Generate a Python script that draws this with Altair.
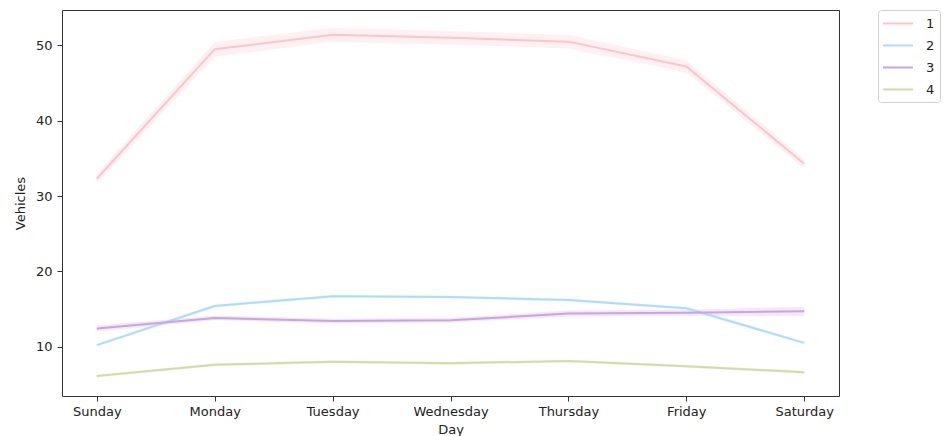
import altair as alt
import pandas as pd

# Average vehicle counts per weekday for four groups, with confidence bands
days = ["Sunday", "Monday", "Tuesday", "Wednesday", "Thursday", "Friday", "Saturday"]
groups = ["1", "2", "3", "4"]

mean_1 = [32.3, 49.5, 51.4, 51.0, 50.5, 47.2, 34.3]
mean_2 = [10.2, 15.4, 16.7, 16.6, 16.2, 15.1, 10.5]
mean_3 = [12.4, 13.8, 13.4, 13.5, 14.4, 14.5, 14.7]
mean_4 = [6.1, 7.6, 8.0, 7.8, 8.1, 7.4, 6.6]

ci_1 = [0.6, 1.0, 0.9, 0.9, 0.9, 0.8, 0.6]
ci_2 = [0.2, 0.2, 0.2, 0.2, 0.2, 0.2, 0.2]
ci_3 = [0.4, 0.3, 0.3, 0.3, 0.4, 0.4, 0.6]
ci_4 = [0.2, 0.2, 0.2, 0.2, 0.2, 0.2, 0.2]

colors = ["#ffc3cc", "#acddfa", "#cda2e2", "#d6dba6"]

rows = []
for g, means, cis in zip(groups, [mean_1, mean_2, mean_3, mean_4], [ci_1, ci_2, ci_3, ci_4]):
    for d, m, c in zip(days, means, cis):
        rows.append({"Day": d, "Group": g, "Vehicles": m, "lo": m - c, "hi": m + c})
df = pd.DataFrame(rows)

font = "DejaVu Sans"

legend = alt.Legend(
    title=None,
    orient="none",
    legendX=816,
    legendY=0,
    padding=5,
    strokeColor="#d0d0d0",
    fillColor="white",
    cornerRadius=3,
    symbolType="M-1.13,0L2.87,0",
    symbolSize=225,
    symbolStrokeWidth=2,
    symbolOpacity=1,
    symbolFillColor="transparent",
    labelOffset=26,
    rowPadding=6,
    labelFontSize=13,
    labelFont=font,
    labelColor="#222",
)
color_scale = alt.Scale(domain=groups, range=colors)

x_enc = alt.X(
    "Day:N",
    sort=days,
    scale=alt.Scale(type="point", padding=0.295),
    axis=alt.Axis(title="Day", labelAngle=0, tickSize=5, labelPadding=4, titlePadding=5),
)
y_scale = alt.Scale(domain=[3.45, 54.7], nice=False, zero=False)

bands = alt.Chart(df).mark_area(opacity=0.25).encode(
    x=x_enc,
    y=alt.Y("lo:Q", scale=y_scale),
    y2="hi:Q",
    color=alt.Color("Group:N", scale=color_scale, legend=legend),
    detail="Group:N",
)

lines = alt.Chart(df).mark_line(strokeWidth=2).encode(
    x=x_enc,
    y=alt.Y(
        "Vehicles:Q",
        scale=y_scale,
        axis=alt.Axis(title="Vehicles", values=[10, 20, 30, 40, 50], tickSize=5,
                      labelPadding=5, titlePadding=8),
    ),
    color=alt.Color("Group:N", scale=color_scale, legend=legend),
    order=alt.Order("Group:N"),
)

chart = (
    alt.layer(bands, lines)
    .properties(
        width=777,
        height=386,
        autosize=alt.AutoSizeParams(type="none"),
        padding={"left": 62, "top": 10, "right": 104, "bottom": 40},
    )
    .configure_view(stroke="#333", strokeWidth=1)
    .configure_axis(
        grid=False,
        domain=False,
        tickColor="#333",
        labelFont=font,
        titleFont=font,
        labelFontSize=13,
        titleFontSize=13,
        labelColor="#222",
        titleColor="#222",
        titleFontWeight="normal",
    )
)

chart.save("out.html", embed_options={"renderer": "svg", "actions": False})
